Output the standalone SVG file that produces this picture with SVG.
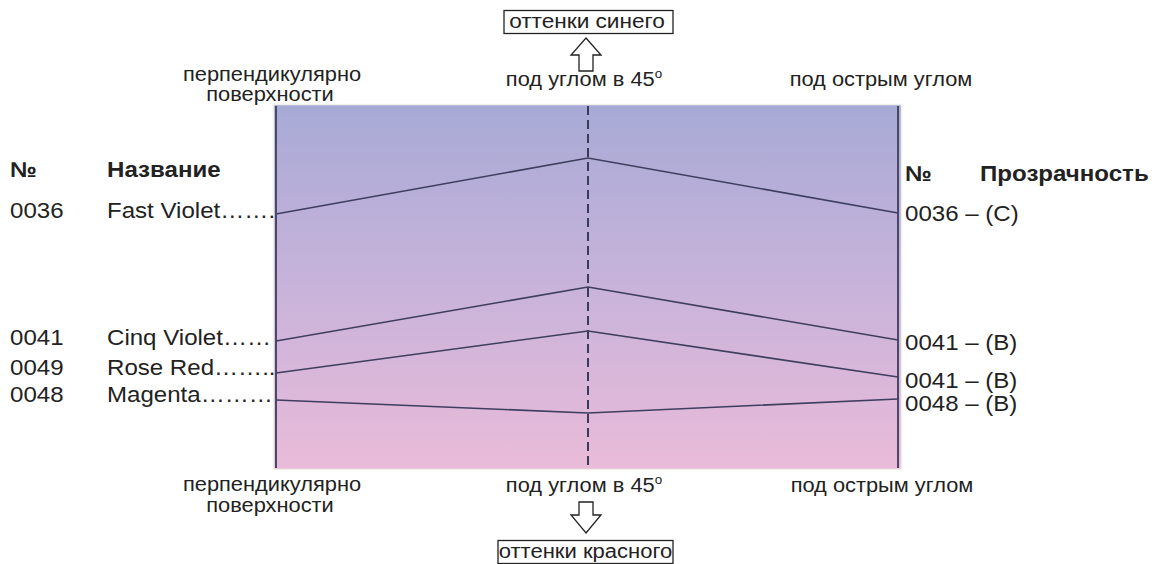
<svg xmlns="http://www.w3.org/2000/svg" width="1152" height="564" viewBox="0 0 1152 564">
<defs>
<linearGradient id="bg" x1="0" y1="0" x2="0" y2="1">
<stop offset="0" stop-color="#a7aad6"/>
<stop offset="0.5" stop-color="#c8b3da"/>
<stop offset="1" stop-color="#eabbd9"/>
</linearGradient>
</defs>
<style>
text{font-family:"Liberation Sans",Arial,Helvetica,sans-serif;fill:#222;}
.s{font-size:19.5px;text-anchor:middle;}
.m{font-size:21.5px;}
.b{font-size:21.5px;font-weight:bold;}
.box{fill:#fff;stroke:#222;stroke-width:1.3;}
.arr{fill:#fff;stroke:#222;stroke-width:1.3;stroke-linejoin:miter;}
.edge{stroke:#4a4a68;stroke-width:2;fill:none;}
.ln{stroke:#3e3e5e;stroke-width:1.6;fill:none;}
.dash{stroke:#3a3a5a;stroke-width:2;stroke-dasharray:9 5;fill:none;}
</style>

<g id="panel">
<rect x="273" y="104" width="629" height="366" fill="url(#bg)"/>
<rect x="273.5" y="104.5" width="628" height="365" fill="none" stroke="#eef0ea" stroke-width="1.5"/>
</g>

<g id="connectors">
<line class="edge" x1="276" y1="106" x2="276" y2="468"/>
<line class="edge" x1="898" y1="106" x2="898" y2="468"/>
<line class="dash" x1="588" y1="106" x2="588" y2="470"/>
<polyline class="ln" points="276,214 588,158 898,213"/>
<polyline class="ln" points="276,341 588,287 898,340"/>
<polyline class="ln" points="276,373 588,331 898,377"/>
<polyline class="ln" points="276,400 588,413 898,399"/>
<polygon class="arr" points="586,38 601,55 593,55 593,71 579,71 579,55 571,55"/>
<polygon class="arr" points="586,533 601,515 593,515 593,502 579,502 579,515 571,515"/>
</g>

<g id="top-box">
<rect class="box" x="504" y="10.5" width="169" height="23"/>
<text class="s" transform="translate(587,28) scale(1.16,1)">оттенки синего</text>
</g>

<g id="bottom-box">
<rect class="box" x="498" y="540.5" width="175" height="23"/>
<text class="s" transform="translate(585.5,558) scale(1.13,1)">оттенки красного</text>
</g>

<g id="top-labels">
<text class="s" transform="translate(272,81) scale(1.12,1)">перпендикулярно</text>
<text class="s" transform="translate(270,101) scale(1.12,1)">поверхности</text>
<text class="s" transform="translate(584,86) scale(1.12,1)">под углом в 45<tspan font-size="12" dy="-8">o</tspan></text>
<text class="s" transform="translate(881,86) scale(1.12,1)">под острым углом</text>
</g>

<g id="bottom-labels">
<text class="s" transform="translate(272,491) scale(1.12,1)">перпендикулярно</text>
<text class="s" transform="translate(270,512) scale(1.12,1)">поверхности</text>
<text class="s" transform="translate(584,492) scale(1.12,1)">под углом в 45<tspan font-size="12" dy="-8">o</tspan></text>
<text class="s" transform="translate(882,492) scale(1.12,1)">под острым углом</text>
</g>

<g id="left-table">
<text class="b" transform="translate(10,177) scale(1.12,1)">№</text>
<text class="b" transform="translate(107,177) scale(1.12,1)">Название</text>
<text class="m" transform="translate(10,218) scale(1.12,1)">0036</text>
<text class="m" transform="translate(107,218) scale(1.12,1)">Fast Violet…….</text>
<text class="m" transform="translate(10,345) scale(1.12,1)">0041</text>
<text class="m" transform="translate(107,345) scale(1.12,1)">Cinq Violet……</text>
<text class="m" transform="translate(10,375) scale(1.12,1)">0049</text>
<text class="m" transform="translate(107,375) scale(1.12,1)">Rose Red……..</text>
<text class="m" transform="translate(10,402) scale(1.12,1)">0048</text>
<text class="m" transform="translate(107,402) scale(1.12,1)">Magenta………</text>
</g>

<g id="right-table">
<text class="b" transform="translate(905,181) scale(1.12,1)">№</text>
<text class="b" transform="translate(980,181) scale(1.12,1)">Прозрачность</text>
<text class="m" transform="translate(905,221) scale(1.12,1)">0036 – (C)</text>
<text class="m" transform="translate(905,350) scale(1.12,1)">0041 – (B)</text>
<text class="m" transform="translate(905,388) scale(1.12,1)">0041 – (B)</text>
<text class="m" transform="translate(905,411) scale(1.12,1)">0048 – (B)</text>
</g>
</svg>
